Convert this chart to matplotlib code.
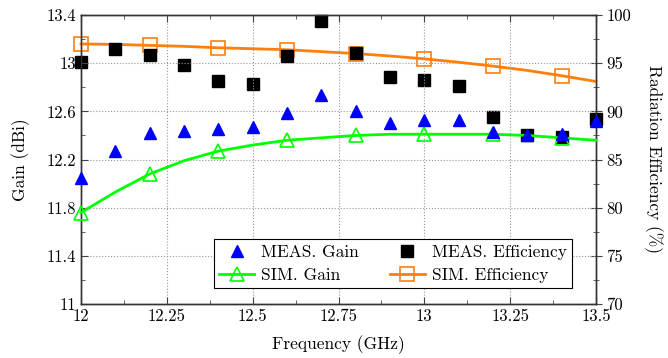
import matplotlib.pyplot as plt
import matplotlib.ticker as mticker
import numpy as np

plt.rcParams['font.family'] = 'serif'
plt.rcParams['font.serif'] = ['cmr10', 'DejaVu Serif']
plt.rcParams['mathtext.fontset'] = 'cm'
plt.rcParams['axes.formatter.use_mathtext'] = True

# ---------- 数据 ----------
freq_meas = [12.0, 12.1, 12.2, 12.3, 12.4, 12.5, 12.6, 12.7, 12.8,
             12.9, 13.0, 13.1, 13.2, 13.3, 13.4, 13.5]
gain_meas = [12.05, 12.27, 12.42, 12.44, 12.45, 12.47, 12.59, 12.74, 12.60,
             12.50, 12.53, 12.53, 12.43, 12.40, 12.41, 12.52]
eff_meas = [95.1, 96.5, 95.9, 94.8, 93.2, 92.8, 95.7, 99.4, 96.1,
            93.6, 93.3, 92.6, 89.4, 87.5, 87.3, 89.2]

freq_sim = [12.0, 12.1, 12.2, 12.3, 12.4, 12.5, 12.6, 12.7, 12.8,
            12.9, 13.0, 13.1, 13.2, 13.3, 13.4, 13.5]
gain_sim = [11.76, 11.93, 12.08, 12.19, 12.27, 12.32, 12.36, 12.38, 12.40,
            12.41, 12.41, 12.41, 12.41, 12.40, 12.38, 12.36]
eff_sim = [97.0, 96.95, 96.85, 96.75, 96.6, 96.5, 96.4, 96.2, 96.0,
           95.75, 95.45, 95.1, 94.7, 94.25, 93.7, 93.1]

x_ticks = [12, 12.25, 12.5, 12.75, 13, 13.25, 13.5]
gain_ticks = [11, 11.4, 11.8, 12.2, 12.6, 13, 13.4]
eff_ticks = [70, 75, 80, 85, 90, 95, 100]

green = '#00ff00'
orange = '#ff7f0e'

# ---------- 画布 ----------
fig = plt.figure(figsize=(6.68, 3.58), dpi=100)
ax = fig.add_axes([0.1213, 0.1508, 0.7709, 0.8072])
ax2 = ax.twinx()

fmt = mticker.FormatStrFormatter('%g')

ax.set_xlim(12, 13.5)
ax.set_ylim(11, 13.4)
ax.set_xticks(x_ticks)
ax.set_yticks(gain_ticks)
ax.xaxis.set_major_formatter(fmt)
ax.yaxis.set_major_formatter(fmt)
ax.xaxis.set_minor_locator(mticker.AutoMinorLocator(2))
ax.yaxis.set_minor_locator(mticker.AutoMinorLocator(2))
ax.grid(True, which='major', linestyle=':', color='#999999', linewidth=0.8)
ax.tick_params(which='both', direction='in', top=True, right=False,
               labelsize=12, color='#444444')
ax.tick_params(which='major', length=5)
ax.tick_params(which='minor', length=3)

ax2.set_ylim(70, 100)
ax2.set_yticks(eff_ticks)
ax2.yaxis.set_major_formatter(fmt)
ax2.yaxis.set_minor_locator(mticker.AutoMinorLocator(2))
ax2.tick_params(which='both', direction='inout', labelsize=12, color='#444444')
ax2.tick_params(which='major', length=8)
ax2.tick_params(which='minor', length=5)

for a in (ax, ax2):
    for s in a.spines.values():
        s.set_color('#333333')
        s.set_linewidth(1.0)

ax.set_xlabel('Frequency (GHz)', fontsize=12.5, labelpad=8)
ax.set_ylabel('Gain (dBi)', fontsize=12.5, labelpad=12)
ax2.set_ylabel('Radiation Efficiency (%)', fontsize=12.5, rotation=270,
               labelpad=23)

# ---------- 绘制 ----------
ax2.plot(freq_sim, eff_sim, color=orange, linewidth=2, marker='s',
         markersize=10, markerfacecolor='none', markeredgewidth=1.2,
         markevery=2, zorder=3, clip_on=False, label='SIM. Efficiency')
ax2.plot(freq_meas, eff_meas, linestyle='none', marker='s', color='black',
         markersize=9, zorder=4, clip_on=False, label='MEAS. Efficiency')

ax.plot(freq_sim, gain_sim, color=green, linewidth=2, marker='^',
        markersize=10, markerfacecolor='none', markeredgewidth=1.2,
        markevery=2, zorder=3, clip_on=False, label='SIM. Gain')
ax.plot(freq_meas, gain_meas, linestyle='none', marker='^', color='#0000ff',
        markersize=9, zorder=4, clip_on=False, label='MEAS. Gain')

ax.set_zorder(ax2.get_zorder() + 1)
ax.patch.set_visible(False)

h1, l1 = ax.get_legend_handles_labels()
h2, l2 = ax2.get_legend_handles_labels()
handles = [h1[1], h1[0], h2[1], h2[0]]
labels = [l1[1], l1[0], l2[1], l2[0]]
leg = ax.legend(handles, labels, ncol=2, loc='lower right',
                bbox_to_anchor=(0.97, 0.025), fontsize=12.5, fancybox=False,
                framealpha=1, edgecolor='black', borderpad=0.3,
                handlelength=2.0, handletextpad=0.4, columnspacing=1.8,
                labelspacing=0.45)
leg.get_frame().set_linewidth(0.8)

fig.savefig('out.png', dpi=100)
